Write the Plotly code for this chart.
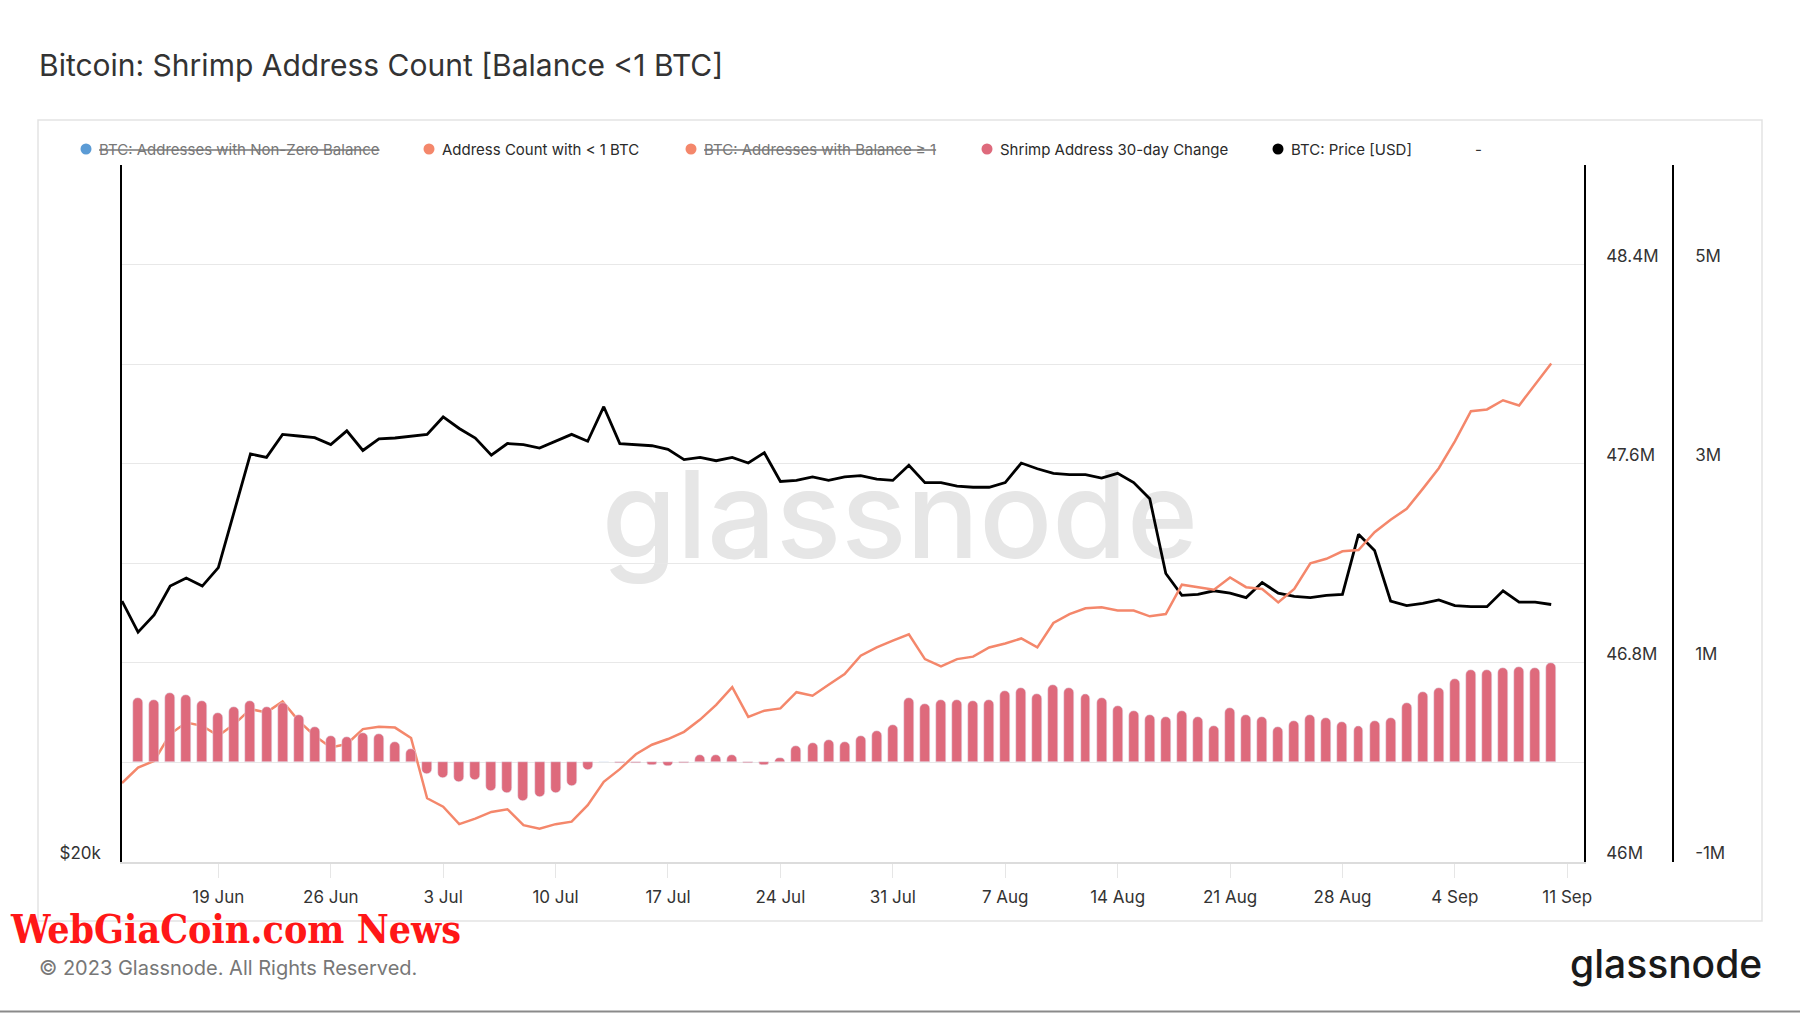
import pandas as pd
import plotly.graph_objects as go

# daily values, 13 Jun 2023 .. 10 Sep 2023
dates = pd.date_range('2023-06-13', '2023-09-10', freq='D')

btc_price = [25926, 25136, 25572, 26314, 26528, 26314, 26802, 28340, 30010, 29908,
             30600, 30550, 30500, 30290, 30708, 30114, 30464, 30490, 30540, 30600,
             31134, 30780, 30490, 29976, 30322, 30290, 30184, 30392, 30600, 30392,
             31454, 30322, 30290, 30256, 30148, 29840, 29908, 29808, 29908, 29740,
             30046, 29200, 29230, 29334, 29230, 29334, 29370, 29265, 29230, 29674,
             29166, 29166, 29066, 29033, 29033, 29166, 29740, 29572, 29436, 29400,
             29400, 29300, 29436, 29166, 28704, 26646, 26074, 26100, 26192, 26130,
             26014, 26408, 26130, 26044, 26014, 26074, 26100, 27704, 27264, 25926,
             25808, 25867, 25955, 25808, 25780, 25780, 26192, 25896, 25896, 25837]

# address count with < 1 BTC, millions
shrimp_count = [46.317, 46.379, 46.406, 46.514, 46.560, 46.547, 46.507, 46.554, 46.614, 46.601,
                46.645, 46.567, 46.507, 46.460, 46.474, 46.534, 46.543, 46.540, 46.498, 46.256,
                46.222, 46.152, 46.174, 46.201, 46.212, 46.148, 46.134, 46.152, 46.162, 46.228,
                46.322, 46.373, 46.433, 46.471, 46.494, 46.523, 46.572, 46.631, 46.702, 46.583,
                46.608, 46.617, 46.682, 46.668, 46.712, 46.755, 46.829, 46.862, 46.889, 46.915,
                46.815, 46.786, 46.815, 46.825, 46.862, 46.878, 46.898, 46.862, 46.960, 46.996,
                47.019, 47.023, 47.010, 47.010, 46.987, 46.996, 47.114, 47.104, 47.094, 47.143,
                47.104, 47.097, 47.043, 47.097, 47.200, 47.218, 47.248, 47.253, 47.325, 47.375,
                47.419, 47.499, 47.582, 47.690, 47.811, 47.818, 47.855, 47.834, 47.919, 48.003]

# shrimp address 30-day change, millions (from 14 Jun)
shrimp_change = [0.643, 0.626, 0.693, 0.676, 0.616, 0.499, 0.552, 0.616, 0.552, 0.599,
                 0.475, 0.358, 0.268, 0.251, 0.298, 0.281, 0.208, 0.134, -0.120, -0.161,
                 -0.194, -0.177, -0.288, -0.311, -0.388, -0.345, -0.311, -0.234, -0.077, 0.002,
                 -0.003, -0.010, -0.030, -0.040, -0.005, 0.074, 0.074, 0.074, -0.010, -0.027,
                 0.040, 0.164, 0.191, 0.224, 0.208, 0.268, 0.315, 0.375, 0.643, 0.586,
                 0.626, 0.626, 0.616, 0.626, 0.720, 0.750, 0.686, 0.776, 0.750, 0.686,
                 0.643, 0.566, 0.519, 0.475, 0.459, 0.519, 0.459, 0.368, 0.549, 0.475,
                 0.459, 0.358, 0.415, 0.475, 0.449, 0.402, 0.368, 0.415, 0.442, 0.599,
                 0.703, 0.750, 0.837, 0.927, 0.927, 0.944, 0.960, 0.944, 0.995]

count_ticks = [46.0, 46.4, 46.8, 47.2, 47.6, 48.0, 48.4, 48.8]
count_ticktext = ['46M', '', '46.8M', '', '47.6M', '', '48.4M', '']
change_ticks = [-1, 1, 3, 5]
change_ticktext = ['-1M', '1M', '3M', '5M']
price_ticks = [20000]
price_ticktext = ['$20k']

legend_names = ['BTC: Addresses with Non-Zero Balance', 'Address Count with &lt; 1 BTC',
                'BTC: Addresses with Balance ≥ 1', 'Shrimp Address 30-day Change',
                'BTC: Price [USD]']
legend_colors = ['#5b9bd5', '#f4876b', '#f4876b', '#de6a7c', '#000000']
legend_hidden = [True, False, True, False, False]

ORANGE = '#f4876b'
BAR = '#de6a7c'

# pixel layout helpers (figure is 1800x1013)
L, R, T, B = 122, 127, 165, 151
PW, PH = 1800 - L - R, 1013 - T - B


def px(x):
    return (x - L) / PW


def py(y):
    return (1013 - B - y) / PH


fig = go.Figure()

fig.add_trace(go.Scatter(x=dates, y=btc_price, mode='lines', yaxis='y',
                         line=dict(color='black', width=2.8), name='BTC: Price [USD]'))
fig.add_trace(go.Scatter(x=dates, y=shrimp_count, mode='lines', yaxis='y2',
                         line=dict(color=ORANGE, width=2.5), name='Address Count with < 1 BTC'))
fig.add_trace(go.Bar(x=dates[1:], y=shrimp_change, yaxis='y3', marker_color=BAR,
                     marker_cornerradius=5, width=0.62 * 86400000,
                     name='Shrimp Address 30-day Change'))

tickfont = dict(family='Inter', size=17, color='#333')

fig.update_layout(
    width=1800, height=1013,
    margin=dict(l=L, r=R, t=T, b=B),
    paper_bgcolor='white', plot_bgcolor='white',
    font=dict(family='Inter', color='#333'),
    showlegend=False,
    bargap=0,
    xaxis=dict(domain=[0, (1584 - L) / PW], range=['2023-06-13', '2023-09-12 01:00'],
               tick0='2023-06-19', dtick=7 * 86400000, tickformat='%-d %b',
               ticks='outside', ticklen=14, tickcolor='#e6e6e6', ticklabelstandoff=5,
               showline=True, linecolor='#dcdcdc', linewidth=1.5, showgrid=False,
               tickfont=tickfont),
    yaxis=dict(type='log', range=[4.30103, 4.60206], tickvals=price_ticks,
               ticktext=price_ticktext, showgrid=False, zeroline=False,
               showline=True, linecolor='black', linewidth=1.5, ticks='',
               ticklabelshift=-9, ticklabelstandoff=16, tickfont=tickfont),
    yaxis2=dict(overlaying='y', side='right', anchor='x', range=[46, 48.8],
                tickvals=count_ticks, ticktext=count_ticktext, showgrid=True,
                gridcolor='#e8e8e8', gridwidth=1, zeroline=False, showline=True,
                linecolor='black', linewidth=1.5, ticks='', ticklabelshift=-9,
                ticklabelstandoff=17, tickfont=tickfont),
    yaxis3=dict(overlaying='y', side='right', anchor='free', position=1.0, range=[-1, 6],
                tickvals=change_ticks, ticktext=change_ticktext, showgrid=False,
                zeroline=False, showline=True, linecolor='black', linewidth=1.5,
                ticks='', ticklabelshift=-9, ticklabelstandoff=18, tickfont=tickfont),
)

shapes = [
    # panel border
    dict(type='rect', xref='paper', yref='paper', x0=px(38), x1=px(1762), y0=py(921), y1=py(120),
         line=dict(color='#e3e3e3', width=1.5), fillcolor='rgba(0,0,0,0)', layer='below'),
    # bottom rule
    dict(type='line', xref='paper', yref='paper', x0=px(0), x1=px(1800), y0=py(1011.5), y1=py(1011.5),
         line=dict(color='#8a8a8a', width=2)),
    # watermark
    dict(type='rect', xref='paper', yref='paper', x0=px(800), x1=px(1000), y0=py(608), y1=py(412),
         line=dict(width=0), fillcolor='rgba(0,0,0,0)', layer='below',
         label=dict(text='glassnode', textposition='middle center',
                    font=dict(family='Inter', size=121, color='#e6e6e6', weight=500))),
]

annotations = [
    dict(text='Bitcoin: Shrimp Address Count [Balance &lt;1 BTC]', x=px(37), y=py(65),
         xanchor='left', yanchor='middle', font=dict(size=30, color='#333')),
    dict(text='© 2023 Glassnode. All Rights Reserved.', x=px(37), y=py(968),
         xanchor='left', yanchor='middle', font=dict(size=20, color='#777')),
    dict(text='glassnode', x=px(1764), y=py(964), xanchor='right', yanchor='middle',
         font=dict(size=39, color='#1a1a1a', weight=500)),
    dict(text='<b>WebGiaCoin.com News</b>', x=px(8), y=py(929), xanchor='left', yanchor='middle',
         font=dict(family='DejaVu Serif Condensed', size=39, color='#ff1717')),
    dict(text='-', x=px(1473), y=py(149), xanchor='left', yanchor='middle',
         font=dict(size=15, color='#333')),
]

dot_x = [86, 429, 691, 987, 1278]
for name, color, hidden, dx in zip(legend_names, legend_colors, legend_hidden, dot_x):
    shapes.append(dict(type='circle', xref='paper', yref='paper', xsizemode='pixel',
                       ysizemode='pixel', xanchor=px(dx), yanchor=py(149),
                       x0=-5.5, x1=5.5, y0=-5.5, y1=5.5, fillcolor=color, line=dict(width=0)))
    label = f'<s>{name}</s>' if hidden else name
    annotations.append(dict(text=label, x=px(dx + 11), y=py(149), xanchor='left', yanchor='middle',
                            font=dict(size=15, color='#777' if hidden else '#2a2a2a')))

for a in annotations:
    a.update(xref='paper', yref='paper', showarrow=False)

fig.update_layout(shapes=shapes, annotations=annotations)

fig.write_html("out.html", config={'displayModeBar': False},
               post_script="document.body.style.margin='0';document.body.style.overflow='hidden';")
